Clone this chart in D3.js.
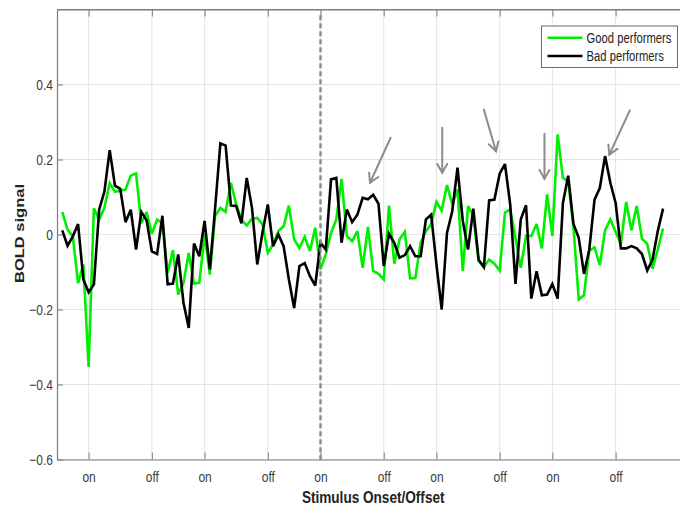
<!DOCTYPE html>
<html>
<head>
<meta charset="utf-8">
<script src="https://cdn.jsdelivr.net/npm/d3@7"></script>
<style>
  html, body { margin: 0; padding: 0; background: #fff; }
  svg { display: block; }
  text { font-family: "Liberation Sans", Arial, Helvetica, sans-serif; }
</style>
</head>
<body>
<svg id="chart" width="680" height="505"></svg>
<script>
// Mean BOLD time courses, one value per sample (sample index = array index)
const goodPerformers = [
  0.06, 0.013, -0.005, -0.13, -0.08, -0.353, 0.07, 0.04, 0.072, 0.137,
  0.114, 0.117, 0.12, 0.157, 0.163, 0.03, 0.06, 0.002, 0.04, 0.03,
  -0.102, -0.042, -0.16, -0.129, -0.049, -0.131, -0.129, 0.0, -0.107, 0.049,
  0.071, 0.06, 0.138, 0.08, 0.04, 0.024, 0.042, 0.044, 0.027, -0.049,
  -0.027, 0.009, 0.022, 0.077, -0.013, -0.036, -0.006, -0.044, 0.018, -0.093,
  -0.053, 0.004, 0.04, 0.148, -0.004, -0.018, 0.009, -0.089, 0.02, -0.097,
  -0.105, -0.12, 0.077, -0.078, -0.013, 0.007, -0.117, -0.116, -0.022, 0.009,
  0.027, 0.087, 0.064, 0.132, 0.08, 0.12, -0.098, 0.076, 0.05, -0.071,
  -0.087, -0.067, -0.078, -0.096, 0.058, 0.067, -0.009, -0.089, -0.004, -0.004,
  0.028, -0.037, 0.107, -0.004, 0.267, 0.151, 0.142, 0.02, -0.173, -0.162,
  -0.044, -0.034, -0.082, 0.011, 0.04, 0.007, -0.025, 0.087, 0.011, 0.076,
  -0.011, -0.025, -0.091, -0.04, 0.016
];
const badPerformers = [
  0.011, -0.03, -0.005, 0.028, -0.12, -0.154, -0.133, 0.066, 0.115, 0.225,
  0.13, 0.122, 0.033, 0.066, -0.04, 0.06, 0.038, -0.045, -0.052, 0.05,
  -0.133, -0.131, -0.053, -0.182, -0.249, -0.024, -0.058, 0.036, -0.093, 0.07,
  0.243, 0.237, 0.077, 0.076, 0.03, 0.151, 0.071, -0.08, 0.006, 0.08,
  -0.031, 0.0, -0.031, -0.12, -0.196, -0.084, -0.076, -0.111, -0.136, -0.022,
  -0.04, 0.147, 0.151, -0.022, 0.067, 0.033, 0.053, 0.098, 0.094, 0.106,
  0.082, -0.084, 0.002, -0.022, -0.062, -0.055, -0.031, -0.058, -0.058, 0.04,
  0.053, -0.08, -0.2, 0.004, 0.062, 0.178, 0.036, -0.04, 0.069, -0.067,
  -0.087, 0.091, 0.093, 0.162, 0.188, 0.08, -0.132, 0.04, 0.078, -0.171,
  -0.098, -0.162, -0.16, -0.132, -0.171, 0.084, 0.157, 0.028, -0.009, -0.105,
  -0.04, 0.093, 0.124, 0.209, 0.138, 0.084, -0.037, -0.037, -0.031, -0.037,
  -0.052, -0.096, -0.067, 0.009, 0.069
];

// Stimulus onset / offset samples and their labels
const eventSamples = [5, 17, 27, 39, 49, 61, 71, 83, 93, 105];
const eventLabels  = ["on", "off", "on", "off", "on", "off", "on", "off", "on", "off"];

// Vertical axis ticks
const yTickValues = [-0.6, -0.4, -0.2, 0, 0.2, 0.4];

// Sample at which the dashed marker is drawn
const markerSample = 49;

// Annotation arrows: [sample, value] of each tail and tip
const arrowTails = [[62.3, 0.258], [72.1, 0.285], [80.0, 0.333], [91.5, 0.269], [107.7, 0.331]];
const arrowTips  = [[58.4, 0.138], [72.1, 0.165], [82.3, 0.222], [91.5, 0.149], [103.8, 0.213]];

const seriesNames  = ["Good performers", "Bad performers"];
const seriesColors = ["#00ee00", "#000000"];

const svg = d3.select("#chart");
const plotLeft = 57, plotRight = 689.4, plotTop = 9.5, plotBottom = 459.5;

const x = d3.scaleLinear().domain([-1, 119]).range([plotLeft, plotRight]);
const y = d3.scaleLinear().domain([-0.6, 0.6]).range([plotBottom, plotTop]);

const axisColor = "#7d7d7d";
const gridColor = "#e4e4e4";
const textColor = "#3c3c3c";

// Grid lines
const grid = svg.append("g");
grid.selectAll("line.vg").data(eventSamples).join("line")
  .attr("class", "vg")
  .attr("x1", d => x(d)).attr("x2", d => x(d))
  .attr("y1", plotTop).attr("y2", plotBottom)
  .attr("stroke", gridColor).attr("stroke-width", 1);
grid.selectAll("line.hg").data(yTickValues).join("line")
  .attr("class", "hg")
  .attr("x1", plotLeft).attr("x2", plotRight)
  .attr("y1", d => y(d)).attr("y2", d => y(d))
  .attr("stroke", gridColor).attr("stroke-width", 1);

// Axes (ticks pointing inward)
const xAxis = svg.append("g")
  .attr("transform", `translate(0,${plotBottom})`)
  .call(d3.axisBottom(x).tickValues(eventSamples)
    .tickFormat((d, i) => eventLabels[i])
    .tickSizeInner(-7).tickSizeOuter(0).tickPadding(11.5));
const xAxisTop = svg.append("g")
  .attr("transform", `translate(0,${plotTop})`)
  .call(d3.axisTop(x).tickValues(eventSamples).tickFormat("")
    .tickSizeInner(-7).tickSizeOuter(0));
const yAxis = svg.append("g")
  .attr("transform", `translate(${plotLeft},0)`)
  .call(d3.axisLeft(y).tickValues(yTickValues)
    .tickFormat(d => d === 0 ? "0" : d3.format(".1f")(d))
    .tickSizeInner(-6).tickSizeOuter(0).tickPadding(5));

[xAxis, xAxisTop, yAxis].forEach(g => {
  g.select(".domain").attr("stroke", axisColor).attr("stroke-width", 1.2);
  g.selectAll(".tick line").attr("stroke", axisColor).attr("stroke-width", 1);
  g.selectAll(".tick text")
    .attr("fill", textColor)
    .style("font-size", "15px")
    .attr("transform", "scale(0.8,1)");
});

// Series lines
const line = d3.line().x((d, i) => x(i)).y(d => y(d));
[goodPerformers, badPerformers].forEach((series, k) => {
  svg.append("path")
    .datum(series)
    .attr("d", line)
    .attr("fill", "none")
    .attr("stroke", seriesColors[k])
    .attr("stroke-width", 2.6)
    .attr("stroke-linejoin", "miter")
    .attr("stroke-miterlimit", 3);
});

// Dashed marker at the middle onset
svg.append("line")
  .attr("x1", x(markerSample)).attr("x2", x(markerSample))
  .attr("y1", y(0.585)).attr("y2", y(-0.6))
  .attr("stroke", "#8a8a8a").attr("stroke-width", 2.4)
  .attr("stroke-dasharray", "5,3");

// Annotation arrows
const arrowColor = "#8c8c8c";
arrowTails.forEach((tail, i) => {
  const tip = arrowTips[i];
  const x0 = x(tail[0]), y0 = y(tail[1]), x1 = x(tip[0]), y1 = y(tip[1]);
  const ang = Math.atan2(y1 - y0, x1 - x0);
  const headLen = 10, spread = Math.PI / 6;
  const g = svg.append("g").attr("stroke", arrowColor).attr("stroke-width", 2).attr("fill", "none")
    .attr("stroke-linecap", "round");
  g.append("line").attr("x1", x0).attr("y1", y0).attr("x2", x1).attr("y2", y1);
  g.append("path").attr("d",
    `M${x1 - headLen * Math.cos(ang - spread)},${y1 - headLen * Math.sin(ang - spread)}` +
    `L${x1},${y1}` +
    `L${x1 - headLen * Math.cos(ang + spread)},${y1 - headLen * Math.sin(ang + spread)}`);
});

// Top border of the axes box
svg.append("line")
  .attr("x1", plotLeft).attr("x2", plotRight).attr("y1", plotTop).attr("y2", plotTop)
  .attr("stroke", axisColor).attr("stroke-width", 1.2);

// Axis titles
svg.append("text")
  .attr("transform", `translate(${(plotLeft + plotRight) / 2},503) scale(0.85,1)`)
  .attr("text-anchor", "middle")
  .style("font-size", "16px").style("font-weight", "bold")
  .attr("fill", "#222")
  .text("Stimulus Onset/Offset");
svg.append("text")
  .attr("transform", `translate(24,${y(0) - 1}) rotate(-90) scale(1,0.82)`)
  .attr("text-anchor", "middle")
  .style("font-size", "16.5px").style("font-weight", "bold")
  .attr("fill", "#222")
  .text("BOLD signal");

// Legend
const legend = svg.append("g").attr("transform", "translate(541.5,26)");
legend.append("rect")
  .attr("width", 136).attr("height", 41.5)
  .attr("fill", "#fff").attr("stroke", "#6a6a6a").attr("stroke-width", 1);
seriesNames.forEach((name, k) => {
  const ly = 11.7 + k * 18.3;
  legend.append("line")
    .attr("x1", 6).attr("x2", 41).attr("y1", ly).attr("y2", ly)
    .attr("stroke", seriesColors[k]).attr("stroke-width", 2.6);
  legend.append("text")
    .attr("transform", `translate(45,${ly + 5}) scale(0.75,1)`)
    .style("font-size", "15px")
    .attr("fill", "#222")
    .text(name);
});
</script>
</body>
</html>
